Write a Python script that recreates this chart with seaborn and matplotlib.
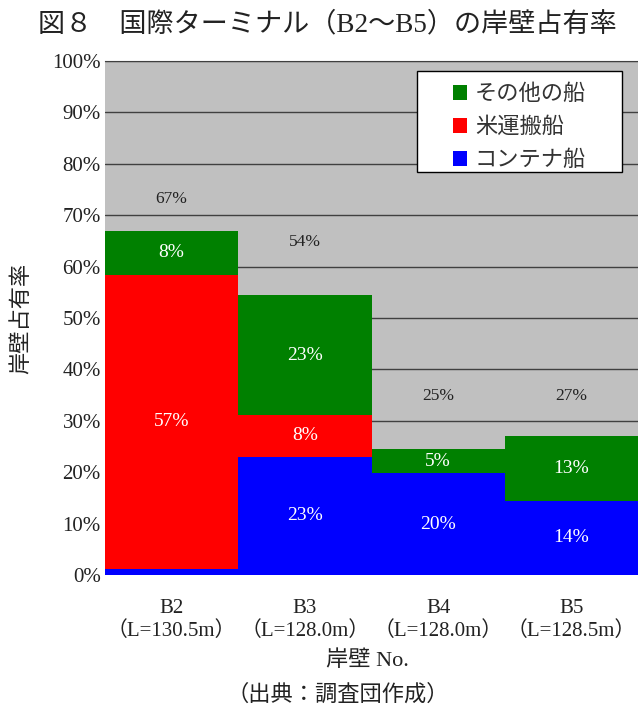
import numpy as np
import pandas as pd
import seaborn as sns
import matplotlib.pyplot as plt
from matplotlib.patches import Rectangle

berths = ["B2\n（L=130.5m）", "B3\n（L=128.0m）", "B4\n（L=128.0m）", "B5\n（L=128.5m）"]
container = [1.2, 23.0, 19.8, 14.4]
rice = [57.2, 8.1, 0.0, 0.0]
other = [8.5, 23.4, 4.7, 12.6]
total_labels = ["67%", "54%", "25%", "27%"]
total_label_y = [73.2, 64.8, 34.8, 34.8]
container_labels = ["", "23%", "20%", "14%"]
rice_labels = ["57%", "8%", "", ""]
other_labels = ["8%", "23%", "5%", "13%"]

sns.set_style("white")
plt.rcParams['font.family'] = ['Liberation Serif', 'Noto Sans CJK JP', 'DejaVu Sans']

df = pd.DataFrame({"berth": berths, "blue": container, "red": rice, "green": other})
df["red_top"] = df.blue + df.red
df["green_top"] = df.red_top + df.green

fig = plt.figure(figsize=(6.38, 7.08), dpi=100)
ax = fig.add_axes([0.1646, 0.1879, 0.8354, 0.7259])
ax.set_facecolor("#c0c0c0")
for v in range(10, 101, 10):
    ax.axhline(v, color="#404040", lw=1, zorder=0.5)

sns.barplot(data=df, x="berth", y="green_top", color="#008000", width=1.0, ax=ax,
            saturation=1, label="その他の船", zorder=2, linewidth=0)
sns.barplot(data=df, x="berth", y="red_top", color="#ff0000", width=1.0, ax=ax,
            saturation=1, label="米運搬船", zorder=2, linewidth=0)
sns.barplot(data=df, x="berth", y="blue", color="#0000ff", width=1.0, ax=ax,
            saturation=1, label="コンテナ船", zorder=2, linewidth=0)

for i in range(len(berths)):
    b, r, g = df.blue[i], df.red_top[i], df.green_top[i]
    ax.text(i, b / 2, container_labels[i], color="white", ha="center", va="center", fontsize=14, zorder=3)
    ax.text(i, (b + r) / 2, rice_labels[i], color="white", ha="center", va="center", fontsize=14, zorder=3)
    ax.text(i, (r + g) / 2, other_labels[i], color="white", ha="center", va="center", fontsize=14, zorder=3)
    ax.text(i, total_label_y[i], total_labels[i], color="#222222", ha="center", va="center", fontsize=12.5, zorder=3)

ax.set_xlim(-0.5, 3.5)
ax.set_ylim(0, 100)
ax.set_yticks(range(0, 101, 10))
ax.set_yticklabels([f"{v}%" for v in range(0, 101, 10)], fontsize=15, color="#222222")
for t in ax.get_xticklabels():
    t.set_linespacing(1.25)
ax.tick_params(axis="x", labelsize=15, length=0, pad=17, labelcolor="#222222")
ax.tick_params(axis="y", length=0, pad=3)
for s in ["left", "right", "bottom"]:
    ax.spines[s].set_visible(False)
ax.spines["top"].set_color("#404040")
ax.set_xlabel("岸壁 No.", fontsize=16, color="#222222")
ax.xaxis.set_label_coords(0.493, -0.167)
ax.xaxis.label.set_va("center")
ax.set_ylabel("岸壁占有率", fontsize=16, color="#222222")
ax.yaxis.set_label_coords(-0.156, 0.5)
ax.yaxis.label.set_va("center")

# legend box (wider than the entries, as in the original)
ax.add_patch(Rectangle((0.585, 0.784), 0.385, 0.1965, transform=ax.transAxes,
                       facecolor="white", edgecolor="black", lw=1, zorder=4))
handles, labels = ax.get_legend_handles_labels()
leg = ax.legend(handles, labels, loc="center", bbox_to_anchor=(0.7775, 0.870),
                fontsize=16, frameon=False, labelcolor="#333333",
                handlelength=0.65, handleheight=0.65, labelspacing=0.56,
                handletextpad=0.35, borderpad=0, borderaxespad=0)
leg.set_zorder(5)

fig.text(0.513, 0.965, "図８　国際ターミナル（B2〜B5）の岸壁占有率", ha="center", va="center",
         fontsize=19.5, color="#222222")
fig.text(0.53, 0.018, "（出典：調査団作成）", ha="center", va="center", fontsize=16, color="#222222")

fig.savefig("out.png", dpi=100)
